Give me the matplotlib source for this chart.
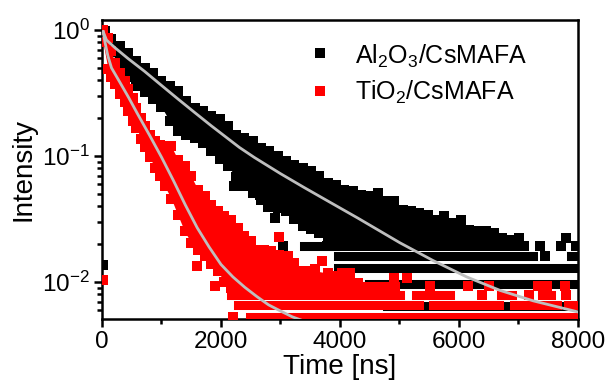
import numpy as np
import matplotlib.pyplot as plt
from matplotlib.ticker import MultipleLocator, NullFormatter, LogLocator

plt.rcParams['font.family'] = 'Liberation Sans'
plt.rcParams['mathtext.fontset'] = 'custom'
plt.rcParams['mathtext.rm'] = 'Liberation Sans'
plt.rcParams['mathtext.it'] = 'Liberation Sans:italic'
plt.rcParams['mathtext.bf'] = 'Liberation Sans:bold'
plt.rcParams['axes.unicode_minus'] = False

# ---- Al2O3/CsMAFA (black): dense part of the decay, upper / lower edge of the point cloud
black_t = [45, 157, 296, 436, 576, 716, 856, 996, 1136, 1275,
           1415, 1555, 1695, 1835, 1975, 2115, 2254, 2394, 2534, 2674,
           2814, 2954, 3094, 3233, 3373, 3513, 3653, 3793, 3933, 4072,
           4212, 4352, 4492, 4632, 4772, 4911, 5051, 5191, 5331, 5471,
           5611, 5751, 5890, 6030, 6170, 6310, 6450, 6590, 6730, 6869, 7009]
black_hi = [0.98, 0.843, 0.746, 0.661, 0.567, 0.502, 0.458, 0.394, 0.359, 0.328,
            0.273, 0.241, 0.227, 0.207, 0.195, 0.173, 0.148, 0.139, 0.131, 0.116,
            0.109, 0.0997, 0.0910, 0.0856, 0.0805, 0.0757, 0.0691, 0.0612, 0.0594, 0.0542,
            0.0526, 0.0494, 0.0480, 0.0509, 0.0438, 0.0438, 0.0376, 0.0365, 0.0354, 0.0343,
            0.0313, 0.0333, 0.0294, 0.0313, 0.0261, 0.0253, 0.0253, 0.0245, 0.0224, 0.0217, 0.0224]
black_lo = [0.823, 0.665, 0.52, 0.42, 0.361, 0.320, 0.285, 0.247, 0.190, 0.158,
            0.147, 0.140, 0.127, 0.110, 0.0945, 0.0835, 0.068, 0.058, 0.0505, 0.045,
            0.041, 0.039, 0.0367, 0.0315, 0.0279, 0.0262, 0.0247, 0.0225, 0.0193, 0.0193,
            0.0193, 0.0193, 0.0193, 0.0193, 0.0193, 0.0193, 0.0193, 0.0193, 0.0193, 0.0193,
            0.0193, 0.0193, 0.0193, 0.0193, 0.0193, 0.0193, 0.0193, 0.0193, 0.0193, 0.0193, 0.0193]
# quantised count levels in the tail: level, run start / end times
black_levels = [0.0193, 0.0161, 0.01288, 0.00966, 0.00644]
black_starts = [[3400], [3970, 7450, 7880], [3970], [4480], [4790]]
black_ends = [[3933], [7250, 7450, 7990], [7990], [7990], [7990]]
black_pts_t = [25, 2226, 2655, 2796, 2908, 3047, 3780, 7085, 7365, 7715, 7800, 7960]
black_pts_y = [0.01355, 0.0579, 0.049, 0.0392, 0.0324, 0.0194, 0.0193, 0.0193, 0.0193, 0.0193, 0.0225, 0.0193]

# ---- TiO2/CsMAFA (red)
red_t = [17, 101, 157, 213, 296, 380, 436, 520, 576, 660,
         716, 800, 884, 968, 1052, 1164, 1275, 1387, 1499, 1611,
         1723, 1835, 1947, 2059, 2170, 2282, 2394, 2506, 2618, 2730,
         2842, 2982, 3121, 3233, 3401, 3569, 3793, 3961, 4128, 4296]
red_hi = [1.0, 0.869, 0.681, 0.550, 0.458, 0.394, 0.3376, 0.290, 0.241, 0.201,
          0.1726, 0.148, 0.131, 0.1234, 0.1197, 0.1197, 0.0938, 0.0830, 0.0691, 0.0542,
          0.0480, 0.0412, 0.0365, 0.0333, 0.0313, 0.0269, 0.0231, 0.0211, 0.0181, 0.0181,
          0.0175, 0.0163, 0.0160, 0.0142, 0.0122, 0.0123, 0.0118, 0.0111, 0.0113, 0.0098]
red_lo = [0.80, 0.490, 0.421, 0.372, 0.310, 0.266, 0.229, 0.190, 0.168, 0.136,
          0.118, 0.099, 0.081, 0.069, 0.058, 0.046, 0.034, 0.0254, 0.0205, 0.018,
          0.0162, 0.0138, 0.0122, 0.0100, 0.0089, 0.00792, 0.00792, 0.00792, 0.00792, 0.00792,
          0.00792, 0.00792, 0.00792, 0.00792, 0.00792, 0.00792, 0.00792, 0.00792, 0.00792, 0.00792]
red_levels = [0.00924, 0.00792, 0.0066, 0.00528]
red_starts = [[4300], [2170, 5273, 6380, 6700, 7175, 7387, 7807], [2280, 5555, 6930, 7824], [2204, 2480]]
red_ends = [[4930], [5002, 5843, 6380, 6884, 7175, 7554, 7807], [5336, 6680, 7655, 7990], [2204, 7990]]
red_pts_t = [25, 1594, 1902, 2982, 3580, 3692, 4030, 4170, 4911, 5119, 5510, 6150, 6500, 7320, 7480, 7780]
red_pts_y = [0.0103, 0.0134, 0.0093, 0.0229, 0.0128, 0.0147, 0.0119, 0.0119, 0.0108, 0.0108,
             0.0093, 0.00924, 0.00924, 0.00924, 0.00924, 0.00924]

# ---- fitted curves (grey)
black_fit_t = [20, 75, 215, 435, 715, 995, 1275, 1555, 1835, 2310, 2560, 3000, 3400, 3832,
               4300, 5008, 5568, 6129, 6689, 7249, 8000]
black_fit_y = [0.97, 0.833, 0.725, 0.595, 0.47, 0.365, 0.284, 0.222, 0.174, 0.117, 0.0975,
               0.0725, 0.0562, 0.043, 0.0322, 0.0205, 0.0148, 0.0110, 0.0086, 0.0071, 0.0058]
red_fit_t = [20, 50, 100, 160, 300, 450, 600, 800, 1000, 1200, 1400, 1600, 1800, 2000, 2200,
             2400, 2600, 2800, 3000, 3200, 3400]
red_fit_y = [0.97, 0.80, 0.62, 0.50, 0.385, 0.29, 0.215, 0.146, 0.098, 0.064, 0.041, 0.027,
             0.019, 0.0138, 0.0110, 0.0091, 0.0077, 0.0066, 0.0059, 0.0053, 0.0049]

ms = 6.5  # square marker size (pt)

fig = plt.figure(figsize=(6.1, 3.89), dpi=100)
ax = fig.add_axes([0.1672, 0.18, 0.7803, 0.7686])


def draw_series(t, hi, lo, levels, starts, ends, pt_t, pt_y, color, z):
    ax.fill_between(t, lo, hi, color=color, lw=0, zorder=z)
    ax.plot(t, hi, 's', color=color, ms=ms, mew=0, zorder=z)
    ax.plot(t, lo, 's', color=color, ms=ms, mew=0, zorder=z)
    for lev, s_list, e_list in zip(levels, starts, ends):
        for a, b in zip(s_list, e_list):
            if b - a < 1:
                ax.plot([a], [lev], 's', color=color, ms=ms, mew=0, zorder=z)
            else:
                ax.plot([a, b], [lev, lev], color=color, lw=ms,
                        solid_capstyle='projecting', zorder=z)
    ax.plot(pt_t, pt_y, 's', color=color, ms=ms, mew=0, zorder=z)


draw_series(black_t, black_hi, black_lo, black_levels, black_starts, black_ends,
            black_pts_t, black_pts_y, 'black', 2)
draw_series(red_t, red_hi, red_lo, red_levels, red_starts, red_ends,
            red_pts_t, red_pts_y, '#ff0000', 3)

ax.plot(black_fit_t, black_fit_y, color='#bebebe', lw=2, zorder=4)
ax.plot(red_fit_t, red_fit_y, color='#bebebe', lw=2, zorder=4)

ax.set_yscale('log')
ax.set_xlim(0, 8000)
ax.set_ylim(0.0051, 1.2)
ax.xaxis.set_major_locator(MultipleLocator(2000))
ax.xaxis.set_minor_locator(MultipleLocator(1000))
ax.yaxis.set_minor_locator(LogLocator(base=10, subs=np.arange(2, 10)))
ax.yaxis.set_minor_formatter(NullFormatter())

for sp in ax.spines.values():
    sp.set_linewidth(1.8)
ax.tick_params(which='both', direction='out', top=False, right=False,
               labelsize=17.5, width=1.8, pad=3)
ax.tick_params(which='major', length=5.5)
ax.tick_params(which='minor', length=3.5)

ax.set_xlabel('Time [ns]', fontsize=20, labelpad=1)
ax.set_ylabel('Intensity', fontsize=20, labelpad=4)

# legend
ax.plot([0.458], [0.891], 's', color='black', ms=ms, mew=0, transform=ax.transAxes, clip_on=False)
ax.plot([0.458], [0.764], 's', color='#ff0000', ms=ms, mew=0, transform=ax.transAxes, clip_on=False)
ax.text(0.5315, 0.855, 'Al$_2$O$_3$/CsMAFA', transform=ax.transAxes, fontsize=18, va='baseline')
ax.text(0.5315, 0.732, 'TiO$_2$/CsMAFA', transform=ax.transAxes, fontsize=18, va='baseline')

fig.savefig('out.png', dpi=100)
